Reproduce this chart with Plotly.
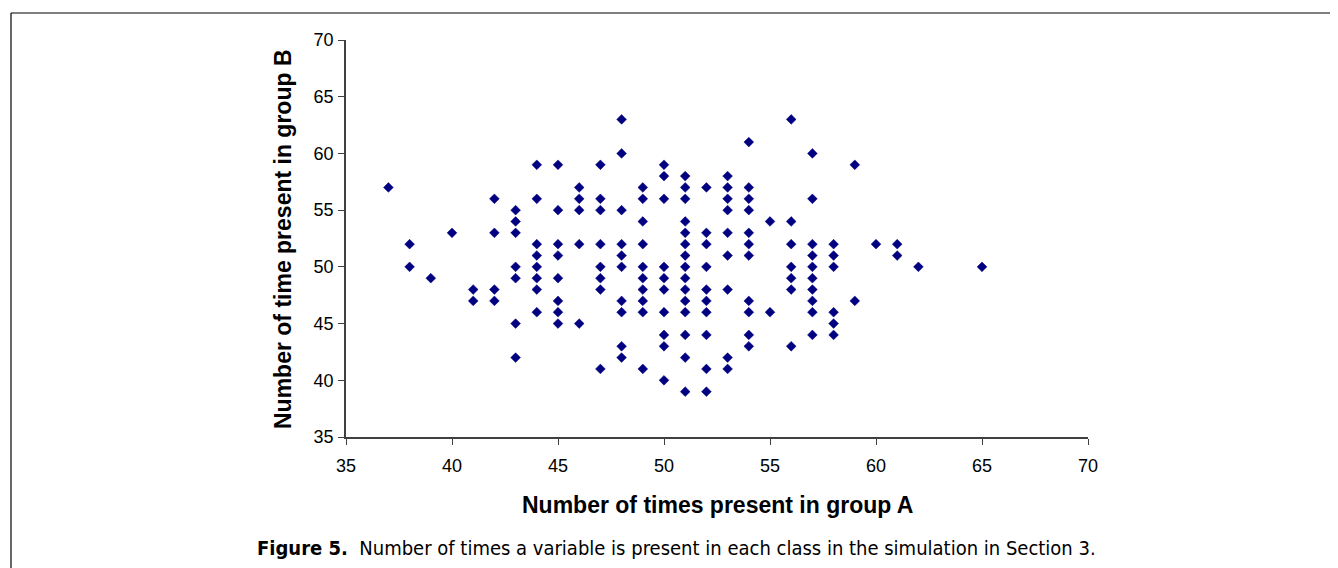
import plotly.graph_objects as go

# Data: for each value of "times present in group A", the list of "times present in group B"
group_a_values = [37, 38, 39, 40, 41, 42, 43, 44, 45, 46, 47, 48, 49, 50, 51, 52, 53, 54,
                  55, 56, 57, 58, 59, 60, 61, 62, 65]
group_b_lists = [
    [57],                                              # 37
    [52, 50],                                          # 38
    [49],                                              # 39
    [53],                                              # 40
    [48, 47],                                          # 41
    [56, 53, 48, 47],                                  # 42
    [55, 54, 53, 50, 49, 45, 42],                      # 43
    [59, 56, 52, 51, 50, 49, 48, 46],                  # 44
    [59, 55, 52, 51, 49, 47, 46, 45],                  # 45
    [57, 56, 55, 52, 45],                              # 46
    [59, 56, 55, 52, 50, 49, 48, 41],                  # 47
    [63, 60, 55, 52, 51, 50, 47, 46, 43, 42],          # 48
    [57, 56, 54, 52, 50, 49, 48, 47, 46, 41],          # 49
    [59, 58, 56, 50, 49, 48, 46, 44, 43, 40],          # 50
    [58, 57, 56, 54, 53, 52, 51, 50, 49, 48, 47, 46, 44, 42, 39],  # 51
    [57, 53, 52, 50, 48, 47, 46, 44, 41, 39],          # 52
    [58, 57, 56, 55, 53, 51, 48, 42, 41],              # 53
    [61, 57, 56, 55, 53, 52, 51, 47, 46, 44, 43],      # 54
    [54, 46],                                          # 55
    [63, 54, 52, 50, 49, 48, 43],                      # 56
    [60, 56, 52, 51, 50, 49, 48, 47, 46, 44],          # 57
    [52, 51, 50, 46, 45, 44],                          # 58
    [59, 47],                                          # 59
    [52],                                              # 60
    [52, 51],                                          # 61
    [50],                                              # 62
    [50],                                              # 65
]
x_tick_vals = [35, 40, 45, 50, 55, 60, 65, 70]
y_tick_vals = [35, 40, 45, 50, 55, 60, 65, 70]

x_title = "Number of times present in group A"
y_title = "Number of time present in group B"
caption = "<b>Figure 5.</b>  Number of times a variable is present in each class in the simulation in Section 3."

xs, ys = [], []
for a, bl in zip(group_a_values, group_b_lists):
    for b in bl:
        xs.append(a)
        ys.append(b)

# page body adds an 8px offset; work in figure coordinates (screen - 8)
OFF = 8
W, H = 1330, 560
L, T = 346 - OFF, 40 - OFF
pw, ph = 742, 397
R, B = W - L - pw, H - T - ph

def px(xs_screen):
    return (xs_screen - OFF - L) / pw

def py(ys_screen):
    return (T + ph - (ys_screen - OFF)) / ph

fig = go.Figure()
fig.add_trace(go.Scatter(
    x=xs, y=ys, mode="markers",
    marker=dict(symbol="diamond", size=7.5, color="#000080",
                line=dict(color="#000080", width=0.5)),
    showlegend=False, hoverinfo="x+y",
))

axis_font = dict(family="Liberation Sans, Arial, sans-serif", size=18, color="black")
fig.update_layout(
    width=W, height=H,
    margin=dict(l=L, r=R, t=T, b=B),
    paper_bgcolor="white", plot_bgcolor="white",
    xaxis=dict(range=[35, 70], tickvals=x_tick_vals, showgrid=False, zeroline=False,
               showline=True, linecolor="#404040", linewidth=1.5,
               ticks="outside", ticklen=6, tickwidth=1.2, tickcolor="#404040",
               tickfont=axis_font, ticklabelstandoff=6, fixedrange=True),
    yaxis=dict(range=[35, 70], tickvals=y_tick_vals, showgrid=False, zeroline=False,
               showline=True, linecolor="#404040", linewidth=1.5,
               ticks="outside", ticklen=6, tickwidth=1.2, tickcolor="#404040",
               tickfont=axis_font, ticklabelstandoff=1, fixedrange=True),
)

fig.add_annotation(text="<b>" + x_title + "</b>", xref="paper", yref="paper",
                   x=px(717), y=py(505), xanchor="center", yanchor="middle",
                   showarrow=False,
                   font=dict(family="Liberation Sans, Arial, sans-serif", size=23, color="black"))
fig.add_annotation(text="<b>" + y_title + "</b>", xref="paper", yref="paper",
                   x=px(283), y=py(239), xanchor="center", yanchor="middle",
                   textangle=-90, showarrow=False,
                   font=dict(family="Liberation Sans, Arial, sans-serif", size=23, color="black"))
fig.add_annotation(text=caption, xref="paper", yref="paper",
                   x=px(676), y=py(548), xanchor="center", yanchor="middle",
                   showarrow=False,
                   font=dict(family="Liberation Sans Narrow, DejaVu Sans Condensed, Liberation Sans, sans-serif",
                             size=20, color="black"))

# figure frame (left and top rules)
fig.add_shape(type="line", xref="paper", yref="paper",
              x0=px(11), y0=py(13), x1=px(1345), y1=py(13),
              line=dict(color="black", width=1.2))
fig.add_shape(type="line", xref="paper", yref="paper",
              x0=px(11), y0=py(13), x1=px(11), y1=py(575),
              line=dict(color="black", width=1.2))

fig.write_html("out.html")
